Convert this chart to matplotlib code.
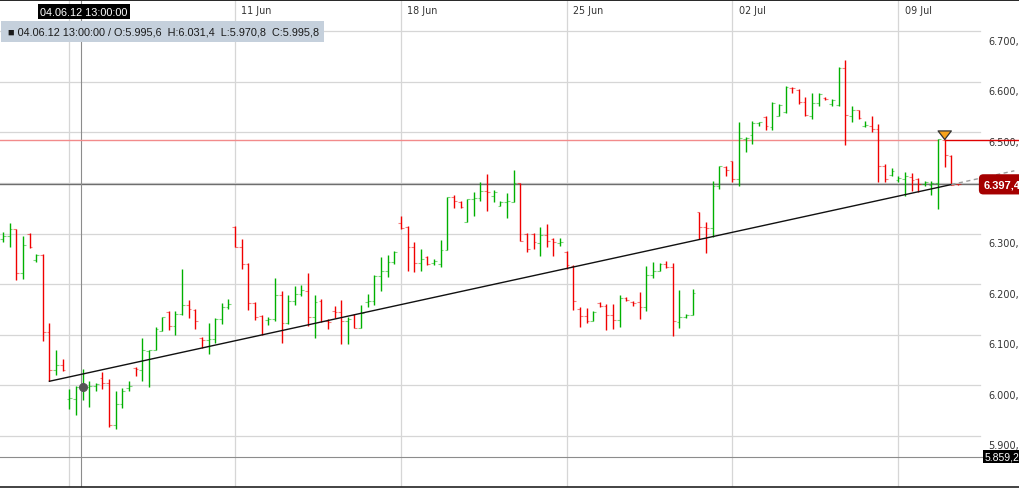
import matplotlib
matplotlib.use("Agg")
import matplotlib.pyplot as plt
from matplotlib import font_manager
from matplotlib.patches import Rectangle, Polygon
from matplotlib.lines import Line2D
import numpy as np

plt.rcParams['font.family'] = ['Liberation Sans', 'DejaVu Sans']

# DAX bars, 5 per trading day (31 May - 10 Jul 2012)
opens = [6289, 6295, 6309, 6223, 6299, 6247, 6258, 6106, 6030, 6040,
         5973, 5973, 5995.6, 5997, 5999, 6014, 6004, 5922, 5964, 5995,
         6034, 6031, 6068, 6070, 6108, 6144, 6118, 6141, 6159.5, 6149,
         6093, 6089.6, 6091.6, 6130.5, 6154, 6314, 6273, 6240, 6162, 6138,
         6129, 6131, 6178.6, 6122.6, 6166, 6180.6, 6186, 6134.5, 6167.5, 6128,
         6147.7, 6145.7, 6128, 6139.8, 6112.7, 6164, 6166, 6217, 6226.8, 6243,
         6320, 6312.5, 6274, 6242.6, 6253, 6242.6, 6240, 6268, 6372, 6363,
         6322.4, 6368.5, 6370, 6385, 6375, 6355, 6363, 6363, 6400, 6300,
         6299, 6281.5, 6297, 6289.4, 6281.5, 6264, 6236.7, 6151, 6136.5, 6128,
         6162, 6157.6, 6140, 6130, 6172, 6164, 6164, 6154, 6218, 6227,
         6240, 6233.4, 6126, 6134.5, 6140, 6342, 6312.5, 6311, 6395, 6431,
         6443, 6408, 6487, 6494, 6519, 6530, 6510, 6533.3, 6540, 6588,
         6584.7, 6561, 6533, 6558.3, 6568, 6556.4, 6554, 6627.6, 6533, 6544,
         6512, 6513.5, 6507, 6434.4, 6416, 6406.7, 6408, 6411, 6408, 6398,
         6396, 6400, 6486, 6454, 6398.8]
highs = [6303, 6320, 6310, 6295, 6301, 6260, 6260, 6123, 6070, 6052,
         5992, 5999, 6031.4, 6009, 6004, 6026, 6012.5, 5988, 5995, 6009,
         6036, 6094, 6070, 6115, 6136, 6146, 6146, 6230, 6169, 6150,
         6095, 6124, 6134, 6162, 6170.7, 6316, 6289, 6241, 6164, 6139,
         6134.5, 6211.6, 6187, 6179, 6197, 6198, 6221.5, 6178.6, 6170.7, 6131,
         6157.5, 6169, 6136, 6141, 6159, 6180.6, 6218.8, 6253, 6258, 6266,
         6335.5, 6314.4, 6283, 6269.6, 6255, 6250, 6288, 6372, 6377, 6364,
         6368.5, 6381.7, 6401.5, 6418, 6387, 6365, 6380, 6426.5, 6401, 6301,
         6301, 6312.5, 6318, 6290.7, 6290.7, 6266, 6238, 6154, 6152, 6146,
         6164, 6161, 6161, 6178.6, 6174, 6167.5, 6184, 6236.7, 6243, 6241.3,
         6246.5, 6242, 6188.5, 6141, 6190.5, 6343.4, 6323.7, 6404.7, 6434.4, 6434.4,
         6444, 6520, 6491.8, 6523.4, 6521.4, 6532, 6559.7, 6556.4, 6592.6, 6589.3,
         6586, 6569.5, 6578, 6578, 6569.5, 6566, 6629, 6644, 6553, 6545,
         6523.4, 6533, 6517, 6437.7, 6429, 6414.6, 6421, 6419, 6409, 6404.7,
         6404.7, 6487, 6487, 6455.5, 6398.8]
lows = [6283, 6274, 6209, 6210, 6271, 6244.5, 6087, 6008, 6021, 6028,
        5953, 5941, 5970.8, 5958, 5988, 5993, 5917, 5914, 5956, 5989,
        6019, 6009, 5996, 6070, 6107, 6110, 6099.5, 6140, 6132.5, 6111,
        6073, 6062, 6083, 6121, 6151, 6273, 6230, 6149, 6129, 6100,
        6119, 6126.6, 6083.7, 6121.3, 6159.5, 6176.7, 6118, 6093, 6124.6, 6111,
        6133, 6082, 6082, 6112.7, 6112.7, 6155.6, 6159.5, 6187, 6215, 6240,
        6309, 6226.8, 6223.5, 6225.4, 6238, 6238.6, 6234.7, 6268, 6350, 6350,
        6322.4, 6334, 6364, 6345, 6362, 6354, 6331, 6363, 6285, 6264,
        6269.6, 6256.4, 6273, 6256.4, 6276, 6230, 6149, 6116, 6123, 6128,
        6154, 6109.4, 6111, 6114.7, 6167.5, 6156, 6131, 6147.7, 6212, 6227,
        6231.4, 6097, 6114, 6133, 6140, 6289, 6261, 6292.7, 6388, 6414.6,
        6401.5, 6393.5, 6462, 6477, 6513.5, 6505.6, 6505.6, 6532, 6538.6, 6578,
        6556.4, 6533.3, 6526.7, 6553, 6565, 6553, 6553, 6475, 6521.4, 6527,
        6510, 6500, 6402.8, 6401.5, 6413.3, 6402.8, 6375, 6385, 6383, 6395,
        6376.4, 6348.7, 6431, 6397, 6397]
closes = [6295, 6309, 6221.5, 6278, 6274, 6257.7, 6106, 6030, 6041, 6030,
          5974, 5996, 5995.8, 5999.3, 6003, 6004, 5922, 5964, 5988, 5998,
          6032, 6070, 6070, 6112, 6134.5, 6118, 6141, 6159.5, 6150, 6126.6,
          6089.6, 6091.6, 6130.5, 6154, 6161, 6273, 6240, 6162, 6134.5, 6101.5,
          6130.5, 6178.6, 6122.6, 6166, 6180.6, 6188.5, 6134.5, 6164, 6128, 6124.6,
          6145.7, 6128, 6131, 6112.7, 6142, 6166, 6217, 6225.4, 6243, 6264,
          6311, 6274, 6242.6, 6250, 6240, 6245, 6268, 6372, 6364, 6352,
          6368.5, 6370, 6385, 6381.7, 6381.7, 6363, 6364, 6400, 6286, 6269.6,
          6283, 6297, 6286, 6283, 6283, 6238, 6166, 6136.5, 6128, 6144.5,
          6157.6, 6140, 6130, 6172, 6169.5, 6163, 6154, 6218, 6227, 6240,
          6233.4, 6128, 6134.5, 6140, 6182, 6312.5, 6311, 6395, 6433, 6426.5,
          6408, 6488.5, 6490, 6519, 6520, 6512, 6558.3, 6554.4, 6589.3, 6587.3,
          6561, 6534.6, 6558.3, 6576, 6566, 6565, 6627.6, 6534.6, 6545, 6528,
          6515, 6507, 6434.4, 6408, 6424.5, 6409, 6413, 6406.7, 6398, 6403,
          6400, 6487, 6455.5, 6397, 6397.4]

week_names = ["11 Jun", "18 Jun", "25 Jun", "02 Jul", "09 Jul"]
week_start = [10, 35, 60, 85, 110, 135]   # first bar of 04 Jun, 11 Jun, ...
price_levels = [5900, 6000, 6100, 6200, 6300, 6400, 6500, 6600, 6700]

last_price = 6397.4
resistance = 6484.5
alert_bar = 142
cross_bar = 12
cross_price = 5859.2
cross_time = "04.06.12 13:00:00"
trend_x = [7, 143]
trend_y = [6008, 6397]
trend_ext = 152.5


def de(v):
    # german number format: 6397.4 -> "6.397,4"
    return f"{v:,.1f}".replace(",", "#").replace(".", ",").replace("#", ".")


W, H = 1019, 489
fig = plt.figure(figsize=(W / 100, H / 100), dpi=100)
fig.patch.set_facecolor("white")
ax = fig.add_axes([0, 1.5 / H, 1, 487.5 / H])
ax.set_xlim(-0.45, 153.2)
ax.set_ylim(5799.9, 6763.9)
ax.axis("off")

xt = ax.get_xaxis_transform()
yt = ax.get_yaxis_transform()
scale_font = ['DejaVu Sans']

# grid
for p in price_levels:
    ax.axhline(p, 0, 0.962, color="#d6d6d6", lw=0.9, zorder=1)
for b in week_start:
    ax.axvline(b, 0, 1, color="#d6d6d6", lw=0.9, zorder=1)

# price scale labels (inside, right side, cut by the window edge);
# the scale hides a label sitting under the current price box
for p in price_levels:
    if abs(p - 19 - last_price) < 25:
        continue
    ax.text(988 / W, p - 19, de(p), transform=yt, ha="left", va="center",
            fontsize=7.0, family=scale_font, color="#333333", zorder=2)
# week labels along the top
for b, name in zip(week_start[1:], week_names):
    ax.text(b + 0.95, 1 - 11 / 487.5, name, transform=xt, ha="left", va="center",
            fontsize=6.9, family=scale_font, color="#333333", zorder=2)

# horizontal reference lines
ax.axhline(last_price, 0, 0.962, color="#6e6e6e", lw=1.0, zorder=3)
ax.axhline(cross_price, 0, 0.965, color="#8c8c8c", lw=0.8, zorder=3)
ax.axvline(cross_bar - 0.2, 0, 1, color="#8c8c8c", lw=0.8, zorder=3)
ax.plot([-0.45, alert_bar - 1], [resistance, resistance], color="#f28b8b", lw=1.0, zorder=3)
ax.plot([alert_bar, 153.2], [resistance, resistance], color="#e00000", lw=1.0, zorder=3)

# OHLC bars
x = np.arange(len(opens))
up = np.array(closes) >= np.array(opens)
cols = np.where(up, "#00b000", "#f00000")
ax.vlines(x, lows, highs, colors=cols, lw=1.0, zorder=5)
ax.hlines(opens, x - 0.42, x, colors=cols, lw=0.8, alpha=0.5, zorder=5)
ax.hlines(closes, x, x + 0.42, colors=cols, lw=0.8, alpha=0.5, zorder=5)

# trend line + dashed projection
ax.plot(trend_x, trend_y, color="#111111", lw=1.0, zorder=6)
slope = (trend_y[1] - trend_y[0]) / (trend_x[1] - trend_x[0])
ax.plot([trend_x[1], trend_ext], [trend_y[1], trend_y[1] + slope * (trend_ext - trend_x[1])],
        color="#9a9a9a", lw=1.0, dashes=(3, 2.5), zorder=6)

# alert marker above bar
tip = highs[alert_bar]
ax.add_patch(Polygon([[alert_bar - 1, tip + 16], [alert_bar + 1, tip + 16], [alert_bar, tip - 1]],
                     closed=True, fc="#f7a21b", ec="#333333", lw=0.9, joinstyle="round", zorder=7))

# crosshair dot
ax.plot(cross_bar, closes[cross_bar], "o", ms=5.5, color="#555555", zorder=7)

# right side value boxes
ax.text(984 / W, last_price, de(last_price), transform=yt, ha="left", va="center",
        fontsize=8, fontweight="bold", color="white", zorder=8,
        bbox=dict(boxstyle="round,pad=0.46,rounding_size=0.4", fc="#a50000", ec="none"))
ax.text(985 / W, cross_price, de(cross_price), transform=yt, ha="left", va="center",
        fontsize=7.5, color="white", zorder=8,
        bbox=dict(boxstyle="square,pad=0.15", fc="black", ec="none"))

# crosshair time box on top (narrow face if available)
names = {f.name for f in font_manager.fontManager.ttflist}
if "Liberation Sans Narrow" in names:
    tfam, tsize = ["Liberation Sans Narrow"], 8.6
else:
    tfam, tsize = ["Liberation Sans"], 7.8
fig.text(84 / W, 1 - 12.5 / H, cross_time, ha="center", va="center", fontsize=tsize,
         family=tfam, color="white", zorder=9,
         bbox=dict(boxstyle="square,pad=0.25", fc="black", ec="none"))

# info panel
fig.add_artist(Rectangle((1 / W, 1 - 43 / H), 323 / W, 21 / H, transform=fig.transFigure,
                         fc="#c5d0dc", ec="none", zorder=8))
info = "\u25a0 {} / O:{}  H:{}  L:{}  C:{}".format(
    cross_time, de(opens[cross_bar]), de(highs[cross_bar]), de(lows[cross_bar]), de(closes[cross_bar]))
fig.text(8 / W, 1 - 32.5 / H, info, ha="left", va="center", fontsize=7.8, color="#1a1a1a", zorder=9)

# frame strips top / bottom
fig.add_artist(Rectangle((0, 1 - 2 / H), 1, 2 / H, transform=fig.transFigure,
                         fc="#2b2b2b", ec="none", zorder=9))
fig.add_artist(Line2D([0, 1], [1.4 / H, 1.4 / H], transform=fig.transFigure,
                      color="#222222", lw=1.2, zorder=9))

fig.savefig("out.png", dpi=100)
